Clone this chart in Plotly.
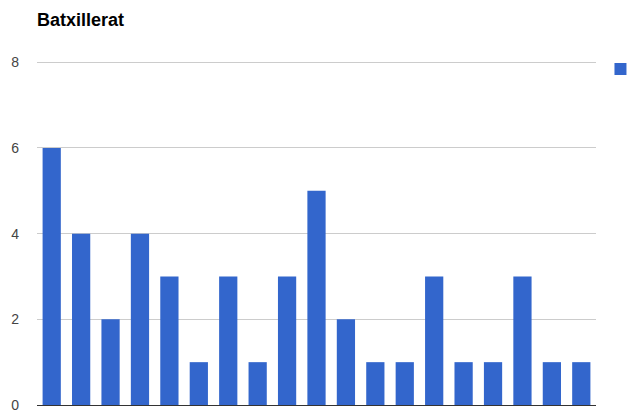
import plotly.graph_objects as go

categories = [str(i) for i in range(1, 20)]
values = [6, 4, 2, 4, 3, 1, 3, 1, 3, 5, 2, 1, 1, 3, 1, 1, 3, 1, 1]
y_ticks = [0, 2, 4, 6, 8]

bars = go.Bar(x=categories, y=values, name='Batxillerat', marker=dict(color='#3366cc', line=dict(width=0)))

# the page body has an 8px margin, so the figure starts at (8, 8)
fig = go.Figure(data=[bars])
fig.update_layout(
    width=628, height=406,
    paper_bgcolor='white', plot_bgcolor='white',
    font=dict(family='Liberation Sans, Arial, sans-serif', color='#444444', size=14),
    title=dict(text='<b>Batxillerat</b>', x=29 / 628, xanchor='left', y=1 - 12 / 406, yanchor='middle',
               font=dict(size=18, color='#000000')),
    margin=dict(l=29, r=40, t=53, b=9, autoexpand=False),
    bargap=0.38,
    showlegend=True,
    legend=dict(x=1.008, xanchor='left', y=1.022, yanchor='top', bgcolor='rgba(0,0,0,0)',
                font=dict(size=14, color='#222222')),
)
fig.update_xaxes(showticklabels=False, showgrid=False, zeroline=False, ticks='',
                 showline=True, linecolor='#333333', linewidth=1)
fig.update_yaxes(range=[0, 8.03], tickvals=y_ticks, showgrid=True, gridcolor='#cccccc', gridwidth=1,
                 zeroline=False, ticks='', ticklabelstandoff=17, tickfont=dict(size=14, color='#444444'))

fig.write_html("out.html")
